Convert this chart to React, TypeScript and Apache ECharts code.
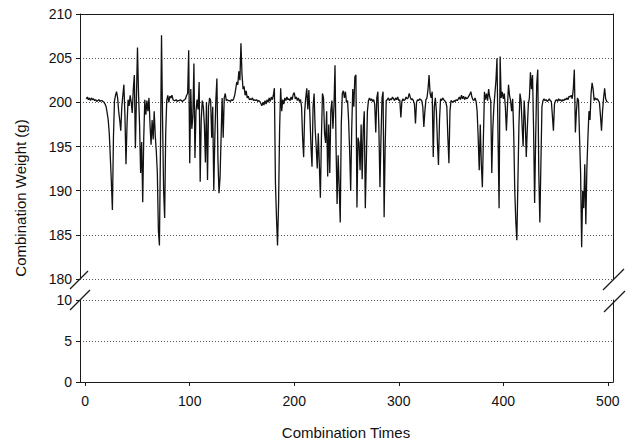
import React, { useEffect, useRef } from "react";
import * as echarts from "echarts";

// Combination weights (g), combination times 1..500
const weights001to100 = [
  200.4, 200.6, 200.3, 200.5, 200.2, 200.5, 200.3, 200.4, 200.2, 200.3,
  200.1, 200.2, 200.3, 200.1, 200.2, 200.2, 200.1, 200.0, 199.8, 199.5,
  198.8, 198.0, 196.5, 193.8, 191.0, 187.8, 196.0, 200.2, 200.8, 201.2,
  200.5, 199.0, 198.0, 196.8, 199.5, 200.8, 202.0, 198.5, 193.0, 197.5,
  200.3, 199.6, 200.8, 200.0, 198.8, 201.5, 203.1, 194.8, 200.5, 206.2,
  201.0, 197.5, 192.0, 195.5, 188.7, 196.0, 200.3, 198.6, 200.2, 199.0,
  200.5, 197.5, 195.2, 198.0, 195.8, 199.0, 196.2, 194.5, 192.0, 185.5,
  183.8, 195.0, 207.6, 198.0, 190.0, 186.9, 196.5, 200.2, 200.8, 200.0,
  200.7, 200.5, 200.8, 200.3, 200.2, 200.2, 200.3, 200.1, 200.2, 200.2,
  200.3, 200.2, 200.1, 200.2, 200.3, 200.4, 200.8, 201.0, 205.9, 193.1,
];
const weights101to200 = [
  201.5, 197.0, 198.5, 204.4, 193.7, 199.0, 200.3, 199.2, 202.3, 191.0,
  198.0, 200.2, 199.5, 197.5, 193.2, 200.0, 191.2, 199.5, 200.5, 200.2,
  196.0, 199.5, 190.0, 196.0, 200.3, 202.7, 193.5, 189.7, 191.5, 196.0,
  200.5, 196.0, 200.5, 201.0, 200.2, 200.3, 200.2, 200.2, 200.1, 200.3,
  200.2, 200.4, 200.8, 201.5, 202.3, 202.0, 203.5, 202.5, 206.7, 203.2,
  201.5, 201.8, 200.8, 201.3, 200.5, 200.7, 200.3, 200.4, 200.3, 200.5,
  200.2, 200.3, 200.2, 200.3, 200.1, 200.2, 200.1, 199.9, 199.6, 200.0,
  199.7, 200.2, 199.8, 200.3, 200.0, 200.5, 200.1, 200.6, 200.3, 200.8,
  201.6, 190.9, 187.0, 183.8, 188.5, 197.0, 201.6, 199.0, 200.3, 199.8,
  200.5, 200.2, 200.6, 200.3, 200.4, 200.2, 200.6, 200.3, 200.9, 201.1,
];
const weights201to300 = [
  200.4, 200.6, 200.2, 200.5, 200.1, 200.3, 199.5, 196.0, 193.8, 199.0,
  200.5, 201.6, 199.2, 201.4, 198.5, 195.0, 192.7, 199.5, 201.0, 197.0,
  195.0, 192.5, 196.5, 193.0, 189.2, 196.0, 201.0, 200.5, 196.5, 195.4,
  199.0, 191.6, 197.5, 192.0, 199.0, 200.2, 197.0, 199.5, 204.2, 195.0,
  188.5, 194.0, 190.5, 186.4, 197.5, 201.0, 201.3, 200.5, 201.2, 200.0,
  200.2, 198.0, 194.5, 190.0, 197.0, 201.5, 199.5, 202.9, 203.1, 188.1,
  196.0, 195.4, 192.3, 197.5, 191.3, 197.0, 199.0, 188.0, 193.5, 199.0,
  200.2, 200.5, 200.2, 200.4, 200.1, 200.3, 199.8, 196.6, 200.5, 201.2,
  197.0, 190.4, 196.0, 200.5, 201.2, 187.0, 195.0, 200.2, 200.3, 200.5,
  200.2, 200.4, 200.3, 200.6, 200.4, 200.2, 200.5, 200.3, 200.6, 200.2,
];
const weights301to400 = [
  200.3, 198.3, 200.1, 200.4, 200.2, 200.3, 200.6, 200.4, 200.5, 201.0,
  200.6, 200.3, 200.4, 200.2, 199.8, 197.6, 200.0, 200.3, 200.2, 200.4,
  200.3, 200.2, 199.5, 197.2, 199.0, 200.3, 200.5, 201.5, 203.1, 201.0,
  200.5, 201.2, 193.8, 199.5, 200.5, 199.0, 195.5, 192.9, 198.0, 200.4,
  200.2, 200.5, 200.3, 200.2, 200.0, 199.5, 196.0, 193.1, 199.0, 200.2,
  200.1, 200.0, 200.2, 200.1, 200.3, 200.2, 200.4, 200.6, 200.3, 200.8,
  200.4, 200.7, 200.3, 200.6, 200.4, 200.5, 200.7, 200.9, 201.2, 200.6,
  200.3, 200.2, 200.5, 200.1, 199.0, 196.0, 192.3, 197.5, 193.0, 190.4,
  196.0, 201.2, 200.3, 201.0, 200.2, 201.5, 200.6, 200.2, 192.0, 197.0,
  199.5, 201.0, 202.5, 205.0, 196.0, 188.0, 205.2, 200.5, 201.2, 200.4,
];
const weights401to500 = [
  201.0, 199.5, 196.8, 199.5, 202.0, 200.8, 200.2, 199.0, 200.4, 196.5,
  190.0, 186.5, 184.4, 191.0, 197.5, 201.0, 200.2, 197.5, 195.0, 200.2,
  198.0, 193.8, 197.0, 199.8, 200.5, 203.4, 201.5, 203.1, 197.0, 188.6,
  196.0, 202.0, 203.7, 192.0, 186.4, 193.0, 199.5, 200.2, 200.4, 200.2,
  200.3, 200.1, 200.2, 200.4, 200.2, 200.1, 198.5, 196.8, 199.8, 200.2,
  200.3, 200.1, 200.4, 200.2, 200.3, 200.1, 200.3, 200.2, 200.4, 200.3,
  200.5, 200.3, 200.7, 200.6, 200.8, 200.4, 201.5, 203.7, 196.6, 199.0,
  200.5, 200.2, 196.0, 192.0, 183.6, 190.0, 188.0, 193.0, 186.2, 192.5,
  196.0, 199.0, 198.0, 201.0, 202.2, 201.5, 200.2, 200.5, 200.3, 200.4,
  200.2, 200.0, 198.5, 196.8, 199.0, 200.5, 201.6, 200.4, 200.1, 200.0,
];

const xTickValues = [0, 100, 200, 300, 400, 500];
const upperRange = [180, 210];
const lowerRange = [0, 10];
const xRange = [-5, 505];

const combinationWeights = [
  ...weights001to100,
  ...weights101to200,
  ...weights201to300,
  ...weights301to400,
  ...weights401to500,
];
const seriesData = combinationWeights.map((w, i) => [i + 1, w]);

const FONT = '"Liberation Sans", Arial, Helvetica, sans-serif';
const AX = "#1a1a1a";

export default function App() {
  const ref = useRef<HTMLDivElement>(null);
  useEffect(() => {
    if (!ref.current) return;
    const chart = echarts.init(ref.current, undefined, { renderer: "svg" });
    const axisLine = { show: true, onZero: false, lineStyle: { color: AX, width: 1 } };
    const labelStyle = { fontSize: 14, color: "#111", fontFamily: FONT };
    const dotted = { show: true, lineStyle: { type: [1, 2] as any, color: "#555", width: 1 } };
    const option: any = {
      animation: false,
      backgroundColor: "#ffffff",
      grid: [
        { left: 80, right: 22, top: 14, height: 265 },
        { left: 80, right: 22, top: 300, height: 82 },
      ],
      xAxis: [
        {
          gridIndex: 0, type: "value", min: xRange[0], max: xRange[1], position: "top",
          axisLine, axisTick: { show: false }, axisLabel: { show: false }, splitLine: { show: false },
        },
        {
          gridIndex: 1, type: "value", min: xRange[0], max: xRange[1], position: "bottom",
          axisLine,
          axisTick: { show: true, inside: false, length: 4, customValues: xTickValues, lineStyle: { color: AX } },
          axisLabel: { ...labelStyle, margin: 12, customValues: xTickValues },
          splitLine: { show: false },
        },
      ],
      yAxis: [
        {
          gridIndex: 0, type: "value", min: upperRange[0], max: upperRange[1], interval: 5, position: "left",
          axisLine, axisTick: { show: true, inside: false, length: 4, lineStyle: { color: AX } },
          axisLabel: { ...labelStyle, margin: 8 }, splitLine: dotted,
        },
        {
          gridIndex: 0, type: "value", min: upperRange[0], max: upperRange[1], position: "right",
          axisLine, axisTick: { show: false }, axisLabel: { show: false }, splitLine: { show: false },
        },
        {
          gridIndex: 1, type: "value", min: lowerRange[0], max: lowerRange[1], interval: 5, position: "left",
          axisLine, axisTick: { show: true, inside: false, length: 4, lineStyle: { color: AX } },
          axisLabel: { ...labelStyle, margin: 8 }, splitLine: dotted,
        },
        {
          gridIndex: 1, type: "value", min: lowerRange[0], max: lowerRange[1], position: "right",
          axisLine, axisTick: { show: false }, axisLabel: { show: false }, splitLine: { show: false },
        },
      ],
      series: [
        {
          type: "line", xAxisIndex: 0, yAxisIndex: 0, data: seriesData,
          symbol: "none", showSymbol: false,
          lineStyle: { color: "#111", width: 1.3 },
        },
      ],
      graphic: [
        { type: "line", shape: { x1: 70, y1: 289, x2: 88, y2: 271 }, style: { stroke: AX, lineWidth: 1.2 } },
        { type: "line", shape: { x1: 70, y1: 310, x2: 90, y2: 290 }, style: { stroke: AX, lineWidth: 1.2 } },
        { type: "line", shape: { x1: 603, y1: 290, x2: 624, y2: 269 }, style: { stroke: AX, lineWidth: 1.2 } },
        { type: "line", shape: { x1: 604, y1: 312, x2: 625, y2: 291 }, style: { stroke: AX, lineWidth: 1.2 } },
        {
          type: "text", x: 20, y: 198, rotation: Math.PI / 2,
          style: { text: "Combination Weight (g)", font: `15px ${FONT}`, fill: "#111", textAlign: "center", textVerticalAlign: "middle" },
        },
        {
          type: "text", x: 346, y: 432,
          style: { text: "Combination Times", font: `15px ${FONT}`, fill: "#111", textAlign: "center", textVerticalAlign: "middle" },
        },
      ],
    };
    chart.setOption(option);
    return () => chart.dispose();
  }, []);
  return (
    <div
      ref={ref}
      style={{ position: "absolute", left: 0, top: 0, width: 635, height: 446, background: "#fff" }}
    />
  );
}
